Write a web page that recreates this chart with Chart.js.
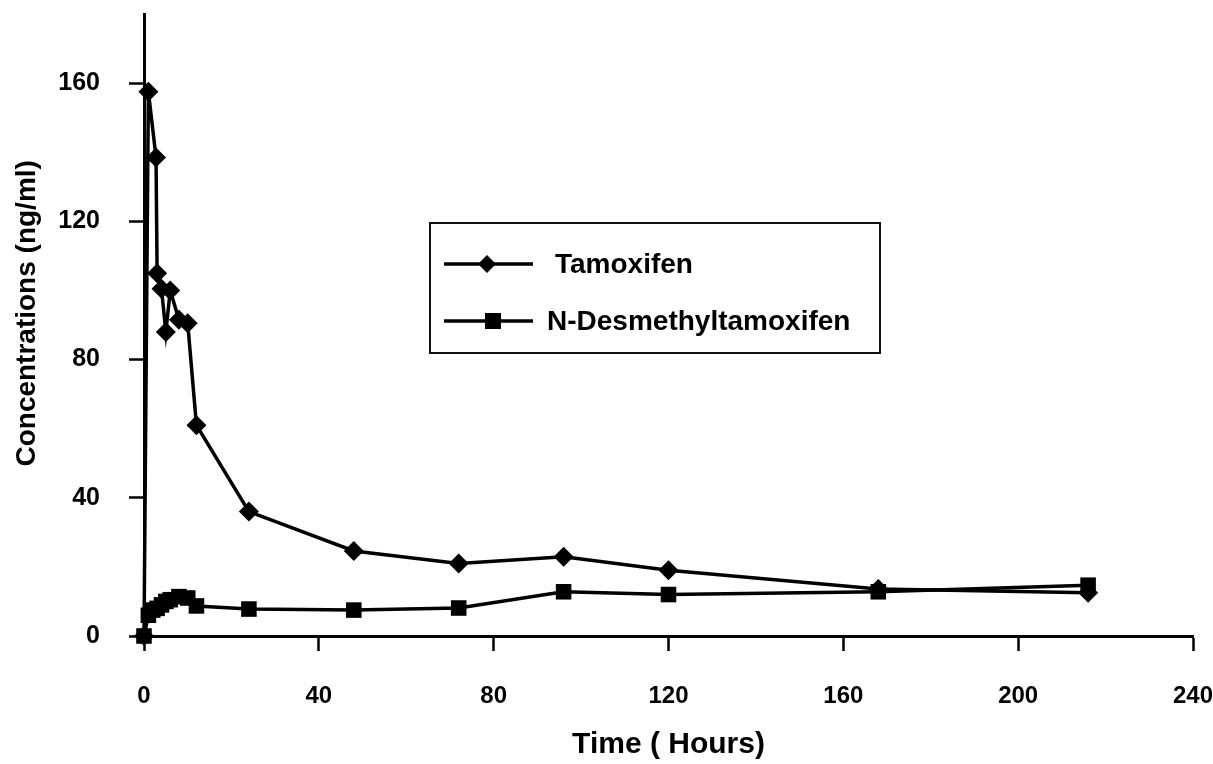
<!DOCTYPE html>
<html>
<head>
<meta charset="utf-8">
<title>Tamoxifen concentrations</title>
<script src="https://cdn.jsdelivr.net/npm/chart.js@4/dist/chart.umd.min.js"></script>
<style>
    html, body {
        margin: 0;
        padding: 0;
        background: #ffffff;
    }
    #wrap {
        width: 1213px;
        height: 764px;
    }
</style>
</head>
<body>
<div id="wrap">
    <canvas id="pkChart" width="1213" height="764"></canvas>
</div>
<script>
// sampling times (hours) and concentrations (ng/ml)
const tamoxifenTimes = [0, 1, 2.75, 3, 4, 5, 6, 8, 10, 12, 24, 48, 72, 96, 120, 168, 216];
const tamoxifenConc = [0, 157.5, 138.5, 105, 100.5, 88, 100, 91.5, 90.5, 61, 36, 24.6, 21, 22.9, 19, 13.6, 12.5];

const desmethylTimes = [0, 1, 2, 3, 4, 5, 6, 8, 10, 12, 24, 48, 72, 96, 120, 168, 216];
const desmethylConc = [0, 6, 7.5, 8, 9, 10, 10.5, 11.4, 11, 8.7, 7.8, 7.5, 8.1, 12.8, 12, 12.8, 14.7];

const seriesLabels = ["Tamoxifen", "N-Desmethyltamoxifen"];
const xTicks = [0, 40, 80, 120, 160, 200, 240];
const yTicks = [0, 40, 80, 120, 160];

const FONT = "'Liberation Sans', Arial, Helvetica, sans-serif";

function toPoints(xs, ys) {
    return xs.map((x, i) => ({ x: x, y: ys[i] }));
}

// legend drawn inside the plot, boxed, like the original figure
const boxedLegend = {
    id: "boxedLegend",
    afterDraw(chart, args, opts) {
        const ctx = chart.ctx;
        ctx.save();
        ctx.fillStyle = "#ffffff";
        ctx.fillRect(opts.left, opts.top, opts.right - opts.left, opts.bottom - opts.top);
        ctx.strokeStyle = "#111111";
        ctx.lineWidth = 2;
        ctx.strokeRect(opts.left, opts.top, opts.right - opts.left, opts.bottom - opts.top);

        chart.data.datasets.forEach((ds, i) => {
            const row = opts.rows[i];
            ctx.strokeStyle = "#000000";
            ctx.lineWidth = 3.5;
            ctx.beginPath();
            ctx.moveTo(opts.lineStart, row.y);
            ctx.lineTo(opts.lineEnd, row.y);
            ctx.stroke();

            ctx.fillStyle = "#000000";
            ctx.beginPath();
            if (ds.pointStyle === "rectRot") {
                const r = 9;
                ctx.moveTo(row.mx, row.y - r);
                ctx.lineTo(row.mx + r, row.y);
                ctx.lineTo(row.mx, row.y + r);
                ctx.lineTo(row.mx - r, row.y);
                ctx.closePath();
            } else {
                ctx.rect(row.mx - 8, row.y - 8, 16, 16);
            }
            ctx.fill();

            ctx.font = "bold 28px " + FONT;
            ctx.textAlign = "left";
            ctx.textBaseline = "middle";
            ctx.fillText(ds.label, row.tx, row.y + 1);
        });
        ctx.restore();
    },
};

new Chart(document.getElementById("pkChart"), {
    type: "line",
    data: {
        datasets: [
            {
                label: seriesLabels[0],
                data: toPoints(tamoxifenTimes, tamoxifenConc),
                borderColor: "#000000",
                backgroundColor: "#000000",
                borderWidth: 3.5,
                pointStyle: "rectRot",
                pointRadius: 10,
                pointBorderWidth: 0,
                tension: 0,
                clip: false,
            },
            {
                label: seriesLabels[1],
                data: toPoints(desmethylTimes, desmethylConc),
                borderColor: "#000000",
                backgroundColor: "#000000",
                borderWidth: 3.5,
                pointStyle: "rect",
                pointRadius: 11,
                pointBorderWidth: 0,
                tension: 0,
                clip: false,
            },
        ],
    },
    options: {
        responsive: false,
        animation: false,
        events: [],
        layout: {
            padding: { top: 14, right: 20, left: 0, bottom: 0 },
        },
        plugins: {
            legend: { display: false },
            tooltip: { enabled: false },
            boxedLegend: {
                left: 430,
                top: 223,
                right: 880,
                bottom: 353,
                lineStart: 444,
                lineEnd: 533,
                rows: [
                    { y: 264, mx: 487, tx: 555 },
                    { y: 321, mx: 493, tx: 547 },
                ],
            },
        },
        scales: {
            x: {
                type: "linear",
                min: 0,
                max: 240,
                afterBuildTicks: (scale) => {
                    scale.ticks = xTicks.map((v) => ({ value: v }));
                },
                afterFit: (scale) => {
                    scale.height = 128;
                    scale.paddingLeft = 0;
                    scale.paddingRight = 0;
                },
                border: { color: "#000000", width: 3 },
                grid: {
                    drawOnChartArea: false,
                    drawTicks: true,
                    tickLength: 15,
                    tickWidth: 2.5,
                    tickColor: "#000000",
                },
                ticks: {
                    color: "#000000",
                    padding: 31,
                    maxRotation: 0,
                    font: { family: FONT, size: 24, weight: "bold" },
                },
                title: {
                    display: true,
                    text: "Time ( Hours)",
                    color: "#000000",
                    padding: { top: 0, bottom: 1 },
                    font: { family: FONT, size: 30, weight: "bold" },
                },
            },
            y: {
                type: "linear",
                min: 0,
                max: 180,
                afterBuildTicks: (scale) => {
                    scale.ticks = yTicks.map((v) => ({ value: v }));
                },
                afterFit: (scale) => {
                    scale.width = 144;
                    scale.paddingTop = 0;
                    scale.paddingBottom = 0;
                },
                border: { color: "#000000", width: 3 },
                grid: {
                    drawOnChartArea: false,
                    drawTicks: true,
                    tickLength: 15,
                    tickWidth: 2.5,
                    tickColor: "#000000",
                },
                ticks: {
                    color: "#000000",
                    padding: 29,
                    font: { family: FONT, size: 25, weight: "bold" },
                },
                title: {
                    display: true,
                    // leading spaces nudge the rotated title up, as in the original
                    text: "   Concentrations (ng/ml)",
                    color: "#000000",
                    padding: { top: 10, bottom: 0 },
                    font: { family: FONT, size: 28, weight: "bold" },
                },
            },
        },
    },
    plugins: [boxedLegend],
});
</script>
</body>
</html>
